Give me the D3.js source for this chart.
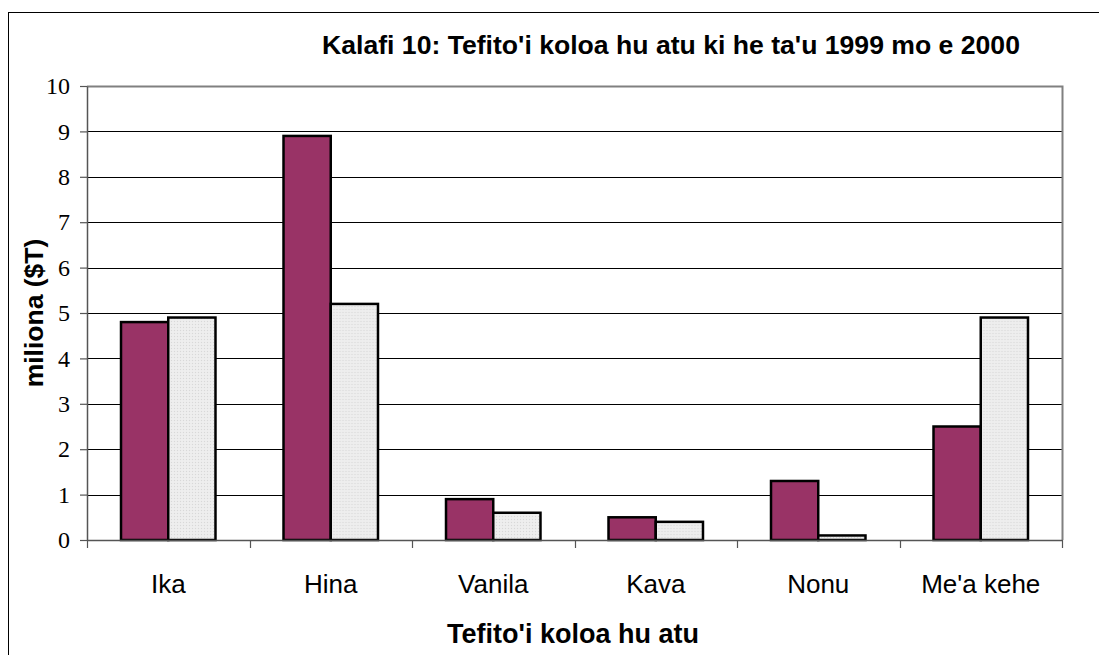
<!DOCTYPE html>
<html>
<head>
<meta charset="utf-8">
<script src="https://cdn.jsdelivr.net/npm/d3@7"></script>
<style>
  html, body { margin: 0; padding: 0; background: #fff; }
  svg { display: block; }
</style>
</head>
<body>
<svg id="chart" width="1099" height="655"></svg>
<script>
const categories = ["Ika", "Hina", "Vanila", "Kava", "Nonu", "Me'a kehe"];
const seriesNames = ["1999", "2000"];
const values1999 = [4.8, 8.9, 0.9, 0.5, 1.3, 2.5];
const values2000 = [4.9, 5.2, 0.6, 0.4, 0.1, 4.9];
const yTicks = [0, 1, 2, 3, 4, 5, 6, 7, 8, 9, 10];
const titleText = "Kalafi 10: Tefito'i koloa hu atu ki he ta'u 1999 mo e 2000";
const xTitle = "Tefito'i koloa hu atu";
const yTitle = "miliona ($T)";

(function () {
const seriesColors = ["#993366", "url(#dots)"];
const svg = d3.select("#chart");

const defs = svg.append("defs");
const pat = defs.append("pattern").attr("id", "dots").attr("patternUnits", "userSpaceOnUse")
  .attr("width", 3).attr("height", 3);
pat.append("rect").attr("width", 3).attr("height", 3).attr("fill", "#ececec");
pat.append("rect").attr("x", 0).attr("y", 0).attr("width", 1).attr("height", 1).attr("fill", "#d8d8d8");
pat.append("rect").attr("x", 1.5).attr("y", 1.5).attr("width", 1).attr("height", 1).attr("fill", "#f6f6f6");

svg.append("rect").attr("x", 8.5).attr("y", 12.5).attr("width", 1200).attr("height", 800)
  .attr("fill", "none").attr("stroke", "#000").attr("stroke-width", 1);

const pLeft = 87, pRight = 1062, pTop = 86, pBottom = 540;
const x0 = d3.scaleBand().domain(categories).range([pLeft, pRight]).padding(0);
const x1 = d3.scaleBand().domain(seriesNames).range([0, x0.bandwidth()]).paddingInner(0).paddingOuter(0.72);
const y = d3.scaleLinear().domain([0, 10]).range([pBottom, pTop]);

svg.append("g").selectAll("line").data(yTicks.filter(d => d > 0 && d < 10)).join("line")
  .attr("x1", pLeft).attr("x2", pRight)
  .attr("y1", d => Math.round(y(d)) + 0.5).attr("y2", d => Math.round(y(d)) + 0.5)
  .attr("stroke", "#000").attr("stroke-width", 1);

svg.append("path")
  .attr("d", `M${pLeft},${y(10) + 0.5}H${pRight + 0.5}V${pBottom}`)
  .attr("fill", "none").attr("stroke", "#808080").attr("stroke-width", 2);

const data = categories.map((c, i) => ({ c, vals: [values1999[i], values2000[i]] }));
const groups = svg.append("g").selectAll("g").data(data).join("g")
  .attr("transform", d => `translate(${x0(d.c)},0)`);
groups.selectAll("rect").data(d => d.vals.map((v, j) => ({ v, s: seriesNames[j], j }))).join("rect")
  .attr("x", d => x1(d.s))
  .attr("width", x1.bandwidth())
  .attr("y", d => y(d.v))
  .attr("height", d => y(0) - y(d.v))
  .attr("fill", d => seriesColors[d.j])
  .attr("stroke", "#000").attr("stroke-width", 2.5);

const yAxis = d3.axisLeft(y).tickValues(yTicks).tickSize(7).tickPadding(10).tickSizeOuter(0);
const gy = svg.append("g").attr("transform", `translate(${pLeft},0)`).call(yAxis);
gy.select(".domain").attr("stroke", "#555").attr("stroke-width", 1.5);
gy.selectAll(".tick line").attr("stroke", "#555").attr("stroke-width", 1.2);
gy.selectAll(".tick text").attr("font-family", "'Liberation Serif', 'Times New Roman', serif")
  .attr("font-size", 24).attr("fill", "#000");

const xAxis = d3.axisBottom(x0).tickSize(0).tickPadding(0).tickSizeOuter(0);
const gx = svg.append("g").attr("transform", `translate(0,${pBottom})`).call(xAxis);
gx.select(".domain").attr("stroke", "#555").attr("stroke-width", 1.5);
gx.selectAll(".tick text").attr("font-family", "'Liberation Sans', Arial, sans-serif")
  .attr("font-size", 26).attr("fill", "#000").attr("dy", null).attr("y", 53);
const sepTicks = categories.map(c => x0(c)).concat([pRight]);
svg.append("g").selectAll("line").data(sepTicks).join("line")
  .attr("x1", d => Math.round(d) + 0.5).attr("x2", d => Math.round(d) + 0.5)
  .attr("y1", pBottom).attr("y2", pBottom + 8)
  .attr("stroke", "#555").attr("stroke-width", 1.2);

svg.append("text").attr("x", 671).attr("y", 54).attr("text-anchor", "middle")
  .attr("font-family", "'Liberation Sans', Arial, sans-serif").attr("font-weight", "bold")
  .attr("font-size", 26.6).text(titleText);
svg.append("text").attr("x", 573).attr("y", 643).attr("text-anchor", "middle")
  .attr("font-family", "'Liberation Sans', Arial, sans-serif").attr("font-weight", "bold")
  .attr("font-size", 27).text(xTitle);
svg.append("text").attr("transform", "translate(43,313) rotate(-90)").attr("text-anchor", "middle")
  .attr("font-family", "'Liberation Sans', Arial, sans-serif").attr("font-weight", "bold")
  .attr("font-size", 26.5).text(yTitle);
})();
</script>
</body>
</html>
